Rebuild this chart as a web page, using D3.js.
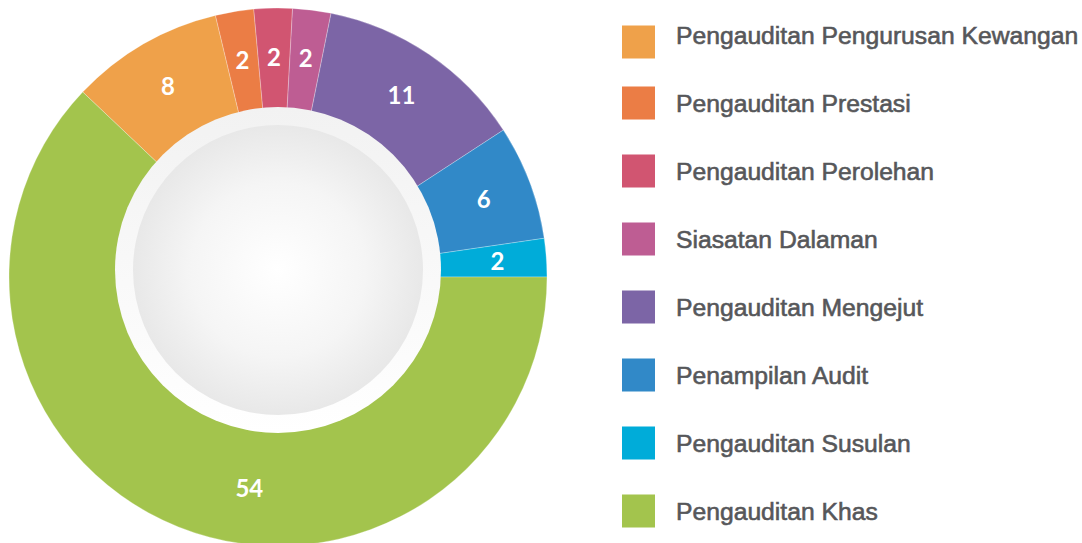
<!DOCTYPE html>
<html>
<head>
<meta charset="utf-8">
<script src="https://cdn.jsdelivr.net/npm/d3@7"></script>
<style>
  html, body { margin: 0; padding: 0; background: #fff; overflow: hidden; }
</style>
</head>
<body>
<div id="chart-area"></div>
<script>
// data audit mengikut jenis
var categories = ["Pengauditan Pengurusan Kewangan", "Pengauditan Prestasi", "Pengauditan Perolehan",
    "Siasatan Dalaman", "Pengauditan Mengejut", "Penampilan Audit", "Pengauditan Susulan", "Pengauditan Khas"];
var values = [8, 2, 2, 2, 11, 6, 2, 54];
var colours = ["#EFA14A", "#EB7D45", "#D15571", "#BE5D93", "#7C65A6", "#3189C8", "#00ACD9", "#A3C44D"];

var width = 1082, height = 543;
var cx = 278, cy = 277;
var outerR = 269;

var data = categories.map(function(c, i) {
    return { name: c, value: values[i], colour: colours[i] };
});

var svg = d3.select("#chart-area").append("svg")
    .attr("width", width)
    .attr("height", height);

var defs = svg.append("defs");
var ringGrad = defs.append("linearGradient").attr("id", "ring")
    .attr("x1", 0).attr("y1", 0).attr("x2", 0).attr("y2", 1);
ringGrad.append("stop").attr("offset", "0%").attr("stop-color", "#f2f2f2");
ringGrad.append("stop").attr("offset", "100%").attr("stop-color", "#ffffff");

var coreGrad = defs.append("radialGradient").attr("id", "core")
    .attr("cx", "50%").attr("cy", "50%").attr("r", "50%");
coreGrad.append("stop").attr("offset", "0%").attr("stop-color", "#ffffff");
coreGrad.append("stop").attr("offset", "60%").attr("stop-color", "#f5f5f5");
coreGrad.append("stop").attr("offset", "100%").attr("stop-color", "#e8e8e8");

// Khas (slice terakhir) mesti bermula tepat di arah jam 3
var before = d3.sum(values.slice(0, values.length - 1));
var total = d3.sum(values);
var start = Math.PI / 2 - (before / total) * 2 * Math.PI;

var pie = d3.pie()
    .sort(null)
    .value(function(d) { return d.value; })
    .startAngle(start)
    .endAngle(start + 2 * Math.PI);

var arc = d3.arc().innerRadius(140).outerRadius(outerR);

var g = svg.append("g").attr("transform", "translate(" + cx + "," + cy + ")");
var arcs = pie(data);

g.selectAll("path.slice")
    .data(arcs)
    .enter()
    .append("path")
    .attr("class", "slice")
    .attr("d", arc)
    .attr("fill", function(d) { return d.data.colour; })
    .attr("stroke", "#ffffff")
    .attr("stroke-opacity", 0.45)
    .attr("stroke-width", 0.6);

// bulatan tengah (sedikit ke atas)
svg.append("circle").attr("cx", cx).attr("cy", cy - 7).attr("r", 163).attr("fill", "url(#ring)");
svg.append("circle").attr("cx", cx).attr("cy", cy - 7).attr("r", 145).attr("fill", "url(#core)");

var maxVal = d3.max(values);
g.selectAll("text.lbl")
    .data(arcs)
    .enter()
    .append("text")
    .attr("class", "lbl")
    .attr("transform", function(d) {
        var a = (d.startAngle + d.endAngle) / 2;
        var r = 220;
        if (d.data.value === maxVal) { a -= 14 * Math.PI / 180; r = 213; } // label besar diletak lebih ke bawah
        return "translate(" + (r * Math.sin(a)) + "," + (-r * Math.cos(a)) + ")";
    })
    .attr("text-anchor", "middle")
    .attr("dy", "0.36em")
    .attr("fill", "#ffffff")
    .attr("font-family", "Lato, 'Open Sans', sans-serif")
    .attr("font-weight", 700)
    .attr("font-size", 24)
    .text(function(d) { return d.data.value; });

// legend
var legend = svg.append("g").attr("transform", "translate(622,0)");
var items = legend.selectAll("g.item")
    .data(data)
    .enter()
    .append("g")
    .attr("class", "item");

items.append("rect")
    .attr("x", 0)
    .attr("y", function(d, i) { return 44 + i * 68 - 25.5 + (i === 0 ? 7 : 0); })
    .attr("width", 33)
    .attr("height", 33)
    .attr("fill", function(d) { return d.colour; });

items.append("text")
    .attr("x", 54)
    .attr("y", function(d, i) { return 44 + i * 68; })
    .attr("fill", "#56575a")
    .attr("stroke", "#56575a")
    .attr("stroke-width", 0.6)
    .attr("font-family", "'Liberation Sans', Arial, sans-serif")
    .attr("font-size", 24.7)
    .text(function(d) { return d.name; });
</script>
</body>
</html>
